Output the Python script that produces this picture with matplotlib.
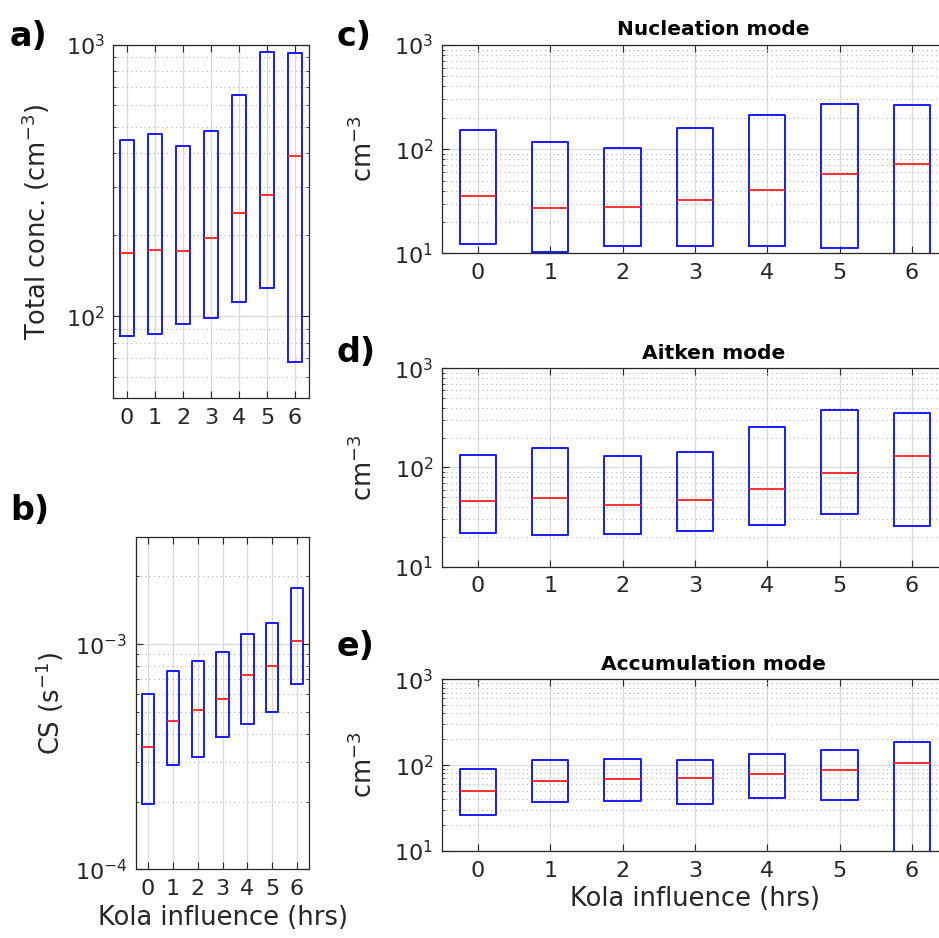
import matplotlib
matplotlib.use('Agg')
import matplotlib.pyplot as plt
from matplotlib.ticker import LogLocator, NullFormatter, NullLocator

plt.rcParams['font.family'] = 'DejaVu Sans'

hours = [0, 1, 2, 3, 4, 5, 6]

# a) total concentration (cm-3)
tot_q1 = [84.7, 86, 93.5, 98.9, 113, 127, 68]
tot_med = [171, 175, 174, 195, 240, 281, 390]
tot_q3 = [448, 468, 424, 484, 655, 943, 931]

# b) condensation sink (s-1)
cs_q1 = [1.95e-4, 2.90e-4, 3.16e-4, 3.85e-4, 4.42e-4, 4.99e-4, 6.62e-4]
cs_med = [3.48e-4, 4.57e-4, 5.09e-4, 5.70e-4, 7.31e-4, 7.99e-4, 1.035e-3]
cs_q3 = [5.98e-4, 7.57e-4, 8.4e-4, 9.2e-4, 1.11e-3, 1.24e-3, 1.77e-3]

# c) nucleation mode
nuc_q1 = [12.2, 10.4, 11.7, 11.7, 11.7, 11.3, 5]
nuc_med = [35.2, 27.4, 27.6, 32.2, 40.5, 57.8, 71.5]
nuc_q3 = [152, 116, 103, 161, 211, 274, 268]

# d) Aitken mode
ait_q1 = [21.7, 20.8, 21.3, 22.9, 26.1, 34.2, 25.6]
ait_med = [45.8, 49.1, 42.1, 46.9, 61.0, 87, 130]
ait_q3 = [133, 157, 132, 143, 255, 381, 355]

# e) accumulation mode
acc_q1 = [26.1, 37.0, 38.0, 35.4, 41.6, 39.4, 5]
acc_med = [49.7, 66.2, 68.7, 70.5, 79.2, 87.4, 105]
acc_q3 = [89.8, 115, 118.5, 115, 134, 151, 184]

W, H = 939, 938
fig = plt.figure(figsize=(W / 100, H / 100), dpi=100)


def px_axes(l, t, r, b):
    return fig.add_axes([l / W, 1 - b / H, (r - l) / W, (b - t) / H])


def box_panel(ax, q1, med, q3, ylim):
    stats = [dict(med=m, q1=lo, q3=hi, whislo=lo, whishi=hi, fliers=[])
             for lo, m, hi in zip(q1, med, q3)]
    ax.bxp(stats, positions=hours, widths=0.5, showcaps=False,
           boxprops=dict(color='#1a1aff', lw=1.4),
           whiskerprops=dict(color='#1a1aff', lw=1.4),
           medianprops=dict(color='#ff2020', lw=1.3))
    ax.set_yscale('log')
    ax.set_ylim(*ylim)
    ax.set_xlim(-0.5, 6.5)
    ax.set_xticks(hours)
    ax.set_xticklabels([str(h) for h in hours])
    ax.yaxis.set_major_locator(LogLocator(base=10))
    ax.yaxis.set_minor_locator(LogLocator(base=10, subs=range(2, 10)))
    ax.yaxis.set_minor_formatter(NullFormatter())
    ax.xaxis.set_minor_locator(NullLocator())
    ax.set_axisbelow(True)
    ax.grid(True, which='major', color='#d9d9d9', lw=0.9, ls='-')
    ax.grid(True, which='minor', axis='y', color='#b5b5b5', lw=0.8, ls=(0, (1, 3)))
    ax.tick_params(which='both', direction='in', top=True, right=True,
                   colors='#262626', labelsize=16)
    ax.tick_params(which='major', length=5)
    ax.tick_params(which='minor', length=2.5)
    ax.tick_params(axis='x', pad=7)
    ax.tick_params(axis='y', pad=6)
    for s in ax.spines.values():
        s.set_color('#262626')
        s.set_linewidth(0.9)


ax_a = px_axes(113, 45, 309, 398)
box_panel(ax_a, tot_q1, tot_med, tot_q3, (50, 1000))
ax_a.set_ylabel('Total conc. (cm$^{-3}$)', fontsize=18.5, color='#262626')
ax_a.yaxis.set_label_coords(-0.31, 0.5)

ax_b = px_axes(135.7, 536.7, 309.3, 869.3)
box_panel(ax_b, cs_q1, cs_med, cs_q3, (1e-4, 3e-3))
ax_b.set_ylabel('CS (s$^{-1}$)', fontsize=18.5, color='#262626')
ax_b.yaxis.set_label_coords(-0.40, 0.5)
ax_b.set_xlabel('Kola influence (hrs)', fontsize=18.5, color='#262626')

right_panels = [
    (45, 253.3, nuc_q1, nuc_med, nuc_q3, 'Nucleation mode'),
    (368.3, 566.7, ait_q1, ait_med, ait_q3, 'Aitken mode'),
    (679.3, 851, acc_q1, acc_med, acc_q3, 'Accumulation mode'),
]
for i, (t, b, q1, med, q3, title) in enumerate(right_panels):
    ax = px_axes(441.7, t, 948, b)
    box_panel(ax, q1, med, q3, (10, 1000))
    ax.set_ylabel('cm$^{-3}$', fontsize=18.5, color='#262626')
    ax.yaxis.set_label_coords(-0.125, 0.5)
    ax.set_title(title, fontsize=14.5, fontweight='bold', x=0.537, pad=7)
    if i == 2:
        ax.set_xlabel('Kola influence (hrs)', fontsize=18.5, color='#262626')

for lbl, x, y in [('a)', 10, 36), ('b)', 10, 510), ('c)', 337, 37),
                  ('d)', 337, 352), ('e)', 337, 646)]:
    fig.text(x / W, 1 - y / H, lbl, fontsize=24, fontweight='bold',
             ha='left', va='center')

fig.savefig('out.png', dpi=100, facecolor='white')
